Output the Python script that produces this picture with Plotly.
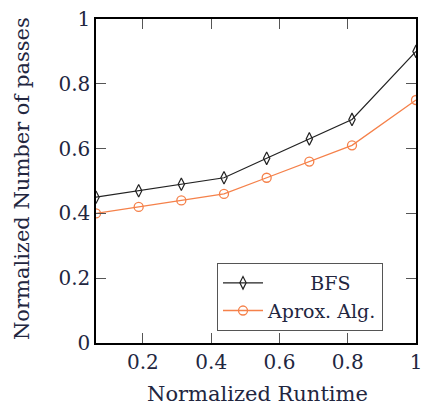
import plotly.graph_objects as go

runtime = [0.0625, 0.1875, 0.3125, 0.4375, 0.5625, 0.6875, 0.8125, 1.0]
bfs = [0.45, 0.47, 0.49, 0.51, 0.57, 0.63, 0.69, 0.90]
aprox = [0.40, 0.42, 0.44, 0.46, 0.51, 0.56, 0.61, 0.75]
x_ticks = [0.2, 0.4, 0.6, 0.8, 1.0]
x_labels = ["0.2", "0.4", "0.6", "0.8", "1"]
y_ticks = [0, 0.2, 0.4, 0.6, 0.8, 1.0]
y_labels = ["0", "0.2", "0.4", "0.6", "0.8", "1"]
x_title = "Normalized Runtime"
y_title = "Normalized Number of passes"

FONT = "DejaVu Serif"
TXT = "#22263f"
orange = "#f5814a"

fig = go.Figure()
fig.add_trace(go.Scatter(
    x=runtime, y=bfs, mode="lines+markers",
    name="\u00a0\u00a0\u00a0\u00a0\u00a0\u00a0\u00a0BFS",
    line=dict(color="#222222", width=1.2),
    marker=dict(symbol="diamond-tall-open", size=9, color="#222222", line=dict(width=1.2)),
))
fig.add_trace(go.Scatter(
    x=runtime, y=aprox, mode="lines+markers", name="Aprox. Alg.",
    line=dict(color=orange, width=1.3),
    marker=dict(symbol="circle-open", size=9, color=orange, line=dict(width=1.3)),
))

axis_common = dict(
    showline=True, linecolor="black", linewidth=1.5, mirror="ticks",
    ticks="inside", ticklen=10, tickcolor="#555555", tickwidth=1,
    showgrid=False, zeroline=False, automargin=False, ticklabeloverflow="allow",
    tickfont=dict(family=FONT, size=20, color=TXT),
)

PW = 320.0  # plot width in px (422 - 96 - 6)
fig.update_layout(
    width=422, height=409,
    margin=dict(l=96, r=6, t=19, b=66),
    paper_bgcolor="white", plot_bgcolor="white",
    font=dict(family=FONT, size=20, color=TXT),
    xaxis=dict(range=[0.0625, 1.0], tickvals=x_ticks, ticktext=x_labels, **axis_common),
    yaxis=dict(range=[0, 1.0], tickvals=y_ticks, ticktext=y_labels, **axis_common),
    legend=dict(x=(217 - 96) / PW, y=0.247, xanchor="left", yanchor="top",
                bordercolor="#555555", borderwidth=1, bgcolor="white",
                font=dict(family=FONT, size=19, color=TXT),
                itemwidth=40, tracegroupgap=0),
    showlegend=True,
    annotations=[
        dict(text=x_title, xref="paper", yref="paper", x=(257 - 96) / PW, y=-0.157,
             xanchor="center", yanchor="middle", showarrow=False,
             font=dict(family=FONT, size=21, color=TXT)),
        dict(text=y_title, xref="paper", yref="paper", x=-(96 - 22) / PW, y=0.506,
             xanchor="center", yanchor="middle", showarrow=False, textangle=-90,
             font=dict(family=FONT, size=21, color=TXT)),
    ],
)

fig.write_html(
    "out.html",
    config={"displayModeBar": False},
    post_script="document.body.style.margin='0';document.body.style.overflow='hidden';",
)
